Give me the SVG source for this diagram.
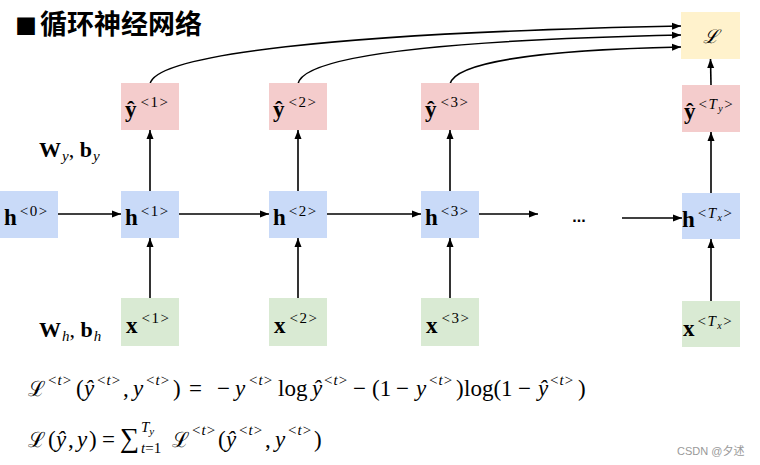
<svg xmlns="http://www.w3.org/2000/svg" width="760" height="465" viewBox="0 0 760 465">
<style>
.box{stroke:none}
.hb{fill:#c9daf8}
.yb{fill:#f4cccc}
.xb{fill:#d9ead3}
.lb{fill:#fff2cc}
.lbl{font-family:"Liberation Serif","DejaVu Serif",serif;font-size:23px;font-weight:bold;fill:#000}
.s{font-weight:normal;font-size:15px;letter-spacing:1.5px}
.ss{font-size:10px;font-style:italic}
.sub{font-size:15px;font-style:italic;font-weight:normal}
.it{font-style:italic}
.m{font-family:"Liberation Serif","DejaVu Serif",serif;font-size:23px;fill:#000}
.cal{font-size:21px}
.sp{font-size:15px;letter-spacing:1px}
.lim{font-size:15px}
.c{fill:none;stroke:#000;stroke-width:1.6}
</style>
<defs>
<marker id="ar" markerWidth="9" markerHeight="8" refX="9" refY="4" orient="auto" markerUnits="userSpaceOnUse">
<path d="M0,0.5 L9,4 L0,7.5 Z" fill="#000"/>
</marker>
</defs>
<rect width="760" height="465" fill="#fff"/>

<text x="15" y="34" font-family="'Noto Sans CJK SC',sans-serif" font-weight="bold" font-size="27"><tspan font-size="22">■</tspan><tspan x="40">循环神经网络</tspan></text>

<g id="connectors">
<path class="c" marker-end="url(#ar)" d="M58,214 L121,214"/>
<path class="c" marker-end="url(#ar)" d="M179,214 L269,214"/>
<path class="c" marker-end="url(#ar)" d="M327,214 L421,214"/>
<path class="c" marker-end="url(#ar)" d="M479,214 L538,214"/>
<path class="c" marker-end="url(#ar)" d="M622,218 L682,218"/>
<path class="c" marker-end="url(#ar)" d="M150,298 L150,238"/>
<path class="c" marker-end="url(#ar)" d="M298,298 L298,238"/>
<path class="c" marker-end="url(#ar)" d="M450,298 L450,238"/>
<path class="c" marker-end="url(#ar)" d="M711,301 L711,239"/>
<path class="c" marker-end="url(#ar)" d="M150,191 L150,130"/>
<path class="c" marker-end="url(#ar)" d="M298,191 L298,130"/>
<path class="c" marker-end="url(#ar)" d="M450,191 L450,130"/>
<path class="c" marker-end="url(#ar)" d="M711,193 L711,132"/>
<path class="c" marker-end="url(#ar)" d="M711,85 L710.5,59"/>
<path class="c" marker-end="url(#ar)" d="M150,84 C155,55 330,33 681,26"/>
<path class="c" marker-end="url(#ar)" d="M298,84 C303,55 450,40 681,35"/>
<path class="c" marker-end="url(#ar)" d="M450,84 C455,62 540,50 681,47"/>
</g>

<g id="L">
<rect class="box lb" x="681" y="12" width="59" height="47"/>
<text x="710.5" y="43" text-anchor="middle" font-family="'DejaVu Serif',serif" font-style="italic" font-size="19">ℒ</text>
</g>

<g id="h0">
<rect class="box hb" x="0" y="191" width="58" height="47"/>
<text class="lbl" x="4" y="225">h<tspan class="s" dx="3" dy="-9">&lt;0&gt;</tspan></text>
</g>
<g id="h1">
<rect class="box hb" x="121" y="191" width="58" height="47"/>
<text class="lbl" x="125" y="225">h<tspan class="s" dx="3" dy="-9">&lt;1&gt;</tspan></text>
</g>
<g id="h2">
<rect class="box hb" x="269" y="191" width="58" height="47"/>
<text class="lbl" x="273" y="225">h<tspan class="s" dx="3" dy="-9">&lt;2&gt;</tspan></text>
</g>
<g id="h3">
<rect class="box hb" x="421" y="191" width="58" height="47"/>
<text class="lbl" x="425" y="225">h<tspan class="s" dx="3" dy="-9">&lt;3&gt;</tspan></text>
</g>
<g id="hTx">
<rect class="box hb" x="682" y="193" width="58" height="46"/>
<text class="lbl" x="682" y="227">h<tspan class="s" dx="3" dy="-9">&lt;<tspan class="it">T</tspan><tspan class="ss" dy="3">x</tspan><tspan dy="-3">&gt;</tspan></tspan></text>
</g>

<g id="y1">
<rect class="box yb" x="121" y="83" width="58" height="47"/>
<text class="lbl" x="125" y="117">ŷ<tspan class="s" dx="4" dy="-10">&lt;1&gt;</tspan></text>
</g>
<g id="y2">
<rect class="box yb" x="269" y="83" width="58" height="47"/>
<text class="lbl" x="273" y="117">ŷ<tspan class="s" dx="4" dy="-10">&lt;2&gt;</tspan></text>
</g>
<g id="y3">
<rect class="box yb" x="421" y="83" width="58" height="47"/>
<text class="lbl" x="425" y="117">ŷ<tspan class="s" dx="4" dy="-10">&lt;3&gt;</tspan></text>
</g>
<g id="yTy">
<rect class="box yb" x="682" y="85" width="58" height="47"/>
<text class="lbl" x="684" y="119">ŷ<tspan class="s" dx="3" dy="-10">&lt;<tspan class="it">T</tspan><tspan class="ss" dy="3">y</tspan><tspan dy="-3">&gt;</tspan></tspan></text>
</g>

<g id="x1">
<rect class="box xb" x="121" y="298" width="58" height="48"/>
<text class="lbl" x="126" y="333">x<tspan class="s" dx="4" dy="-10">&lt;1&gt;</tspan></text>
</g>
<g id="x2">
<rect class="box xb" x="269" y="298" width="58" height="48"/>
<text class="lbl" x="274" y="333">x<tspan class="s" dx="4" dy="-10">&lt;2&gt;</tspan></text>
</g>
<g id="x3">
<rect class="box xb" x="421" y="298" width="58" height="48"/>
<text class="lbl" x="426" y="333">x<tspan class="s" dx="4" dy="-10">&lt;3&gt;</tspan></text>
</g>
<g id="xTx">
<rect class="box xb" x="682" y="301" width="58" height="46"/>
<text class="lbl" x="683" y="336">x<tspan class="s" dx="3" dy="-10">&lt;<tspan class="it">T</tspan><tspan class="ss" dy="3">x</tspan><tspan dy="-3">&gt;</tspan></tspan></text>
</g>

<g id="dots">
<text x="579" y="222" text-anchor="middle" font-family="'Liberation Sans',sans-serif" font-weight="bold" font-size="16">...</text>
</g>

<g id="Wy">
<text class="lbl" x="39" y="157" style="font-size:22px">W<tspan class="sub" dx="1" dy="4">y</tspan><tspan font-weight="normal" dy="-4">, </tspan>b<tspan class="sub" dx="1" dy="4">y</tspan></text>
</g>
<g id="Wh">
<text class="lbl" x="39" y="337" style="font-size:22px">W<tspan class="sub" dx="1" dy="4">h</tspan><tspan font-weight="normal" dy="-4">, </tspan>b<tspan class="sub" dx="1" dy="4">h</tspan></text>
</g>

<g id="eq1">
<text class="m" y="396"><tspan class="cal" x="28">ℒ</tspan><tspan class="sp" x="48" y="385">&lt;<tspan class="it">t</tspan>&gt;</tspan><tspan x="76" y="396">(</tspan><tspan class="it" x="84">ŷ</tspan><tspan class="sp" x="97" y="385">&lt;<tspan class="it">t</tspan>&gt;</tspan><tspan x="123" y="396">,</tspan><tspan class="it" x="133">y</tspan><tspan class="sp" x="146" y="385">&lt;<tspan class="it">t</tspan>&gt;</tspan><tspan x="173" y="396">)</tspan><tspan x="189">=</tspan><tspan x="217">−</tspan><tspan class="it" x="235">y</tspan><tspan class="sp" x="249" y="385">&lt;<tspan class="it">t</tspan>&gt;</tspan><tspan x="278" y="396">log</tspan><tspan class="it" x="312">ŷ</tspan><tspan class="sp" x="324" y="385">&lt;<tspan class="it">t</tspan>&gt;</tspan><tspan x="353" y="396">−</tspan><tspan x="372">(1</tspan><tspan x="396">−</tspan><tspan class="it" x="416">y</tspan><tspan class="sp" x="429" y="385">&lt;<tspan class="it">t</tspan>&gt;</tspan><tspan x="456" y="396">)</tspan><tspan x="464">log(1</tspan><tspan x="518">−</tspan><tspan class="it" x="538">ŷ</tspan><tspan class="sp" x="550" y="385">&lt;<tspan class="it">t</tspan>&gt;</tspan><tspan x="578" y="396">)</tspan></text>
</g>

<g id="eq2">
<text class="m" y="447"><tspan class="cal" x="28">ℒ</tspan><tspan x="48">(</tspan><tspan class="it" x="56">ŷ</tspan><tspan x="68">,</tspan><tspan class="it" x="77">y</tspan><tspan x="89">)</tspan><tspan x="102">=</tspan><tspan x="120" style="font-size:27px">∑</tspan><tspan class="lim it" x="141" y="432">T</tspan><tspan class="it" style="font-size:11px" y="435">y</tspan><tspan class="lim" x="141" y="453"><tspan class="it">t</tspan>=1</tspan><tspan class="cal" x="172" y="447">ℒ</tspan><tspan class="sp" x="192" y="435">&lt;<tspan class="it">t</tspan>&gt;</tspan><tspan x="218" y="447">(</tspan><tspan class="it" x="226">ŷ</tspan><tspan class="sp" x="239" y="435">&lt;<tspan class="it">t</tspan>&gt;</tspan><tspan x="265" y="447">,</tspan><tspan class="it" x="275">y</tspan><tspan class="sp" x="288" y="435">&lt;<tspan class="it">t</tspan>&gt;</tspan><tspan x="314" y="447">)</tspan></text>
</g>

<text x="677" y="455" font-family="'Liberation Sans','Noto Sans CJK SC',sans-serif" font-size="11" fill="#999">CSDN @夕述</text>
</svg>
